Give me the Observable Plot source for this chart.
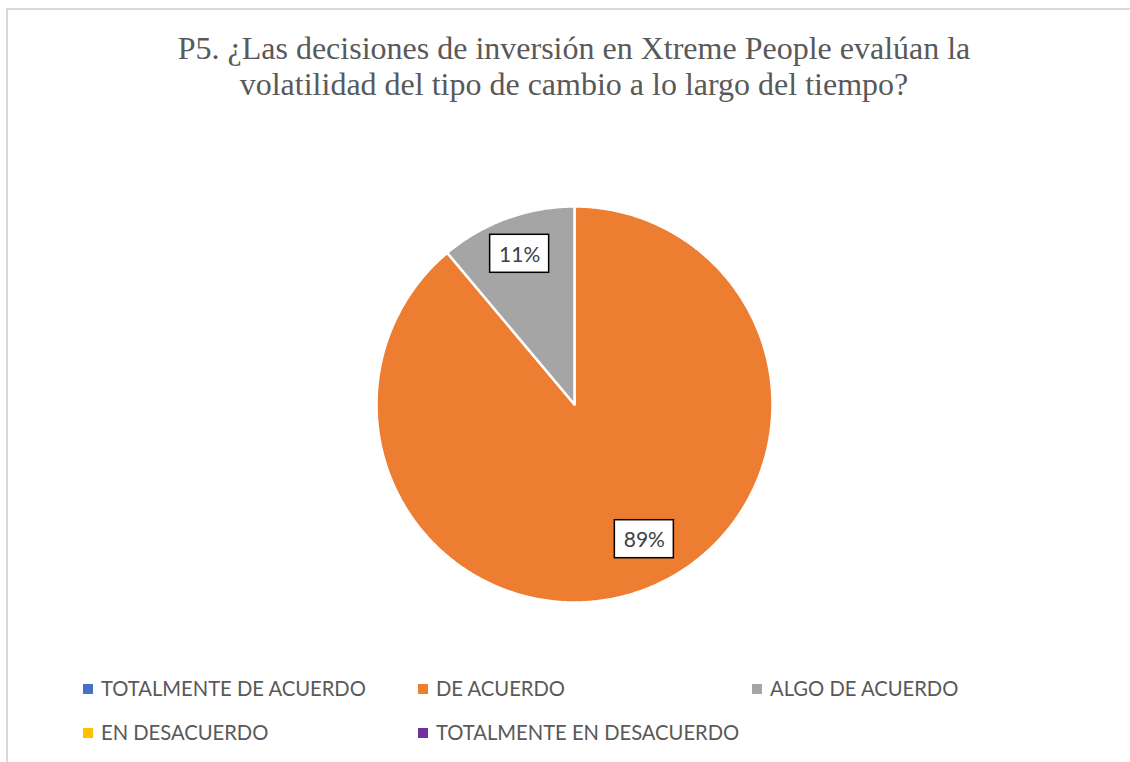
<!DOCTYPE html>
<html>
<head>
<meta charset="utf-8">
<script src="https://cdn.jsdelivr.net/npm/d3@7"></script>
<script src="https://cdn.jsdelivr.net/npm/@observablehq/plot@0.6"></script>
<style>
  body { margin: 0; background: #fff; }
  #wrap { position: relative; width: 1130px; height: 762px; overflow: hidden; background: #fff; }
  #frame { position: absolute; left: 6px; top: 8px; width: 1150px; height: 780px; border: 2px solid #d9d9d9; box-sizing: border-box; }
  #title { position: absolute; left: 0; top: 30px; width: 1148px; text-align: center; font-family: "Liberation Serif", "Times New Roman", serif; font-size: 32px; line-height: 36px; color: #595959; }
  #chart { position: absolute; left: 0; top: 0; }
  .leg { position: absolute; font-family: Lato, "Open Sans", sans-serif; font-size: 20.2px; line-height: 24px; color: #595959; white-space: nowrap; }
  .sw { position: absolute; width: 10px; height: 10px; }
</style>
</head>
<body>
<div id="wrap">
  <div id="frame"></div>
  <div id="chart"></div>
  <div id="title">P5. ¿Las decisiones de inversión en Xtreme People evalúan la<br>volatilidad del tipo de cambio a lo largo del tiempo?</div>
  <div id="legend"></div>
</div>
<script>
// ---- data ----
const categories = ["TOTALMENTE DE ACUERDO", "DE ACUERDO", "ALGO DE ACUERDO", "EN DESACUERDO", "TOTALMENTE EN DESACUERDO"];
const counts = [0, 8, 1, 0, 0];
const colors = ["#4472C4", "#ED7D31", "#A5A5A5", "#FFC000", "#7030A0"];

const total = d3.sum(counts);
const rows = categories.map((c, i) => ({ key: c, value: counts[i], color: colors[i] }));
const arcs = d3.pie().sort(null).value(d => d.value)(rows);

// polygon vertices for each non-empty slice (unit circle, y up, clockwise from 12 o'clock)
const slices = arcs.filter(a => a.value > 0).map(a => {
  const pts = [{ x: 0, y: 0 }];
  const n = Math.max(2, Math.ceil((a.endAngle - a.startAngle) / (Math.PI / 360)));
  for (let k = 0; k <= n; k++) {
    const t = a.startAngle + (a.endAngle - a.startAngle) * k / n;
    pts.push({ x: Math.sin(t), y: Math.cos(t) });
  }
  pts.push({ x: 0, y: 0 });
  return { key: a.data.key, color: a.data.color, pts };
});

// data labels
const labelR = 0.81;
const labels = arcs.filter(a => a.value > 0).map(a => {
  const mid = (a.startAngle + a.endAngle) / 2;
  return {
    key: a.data.key,
    big: a.value / total > 0.5,
    x: Math.sin(mid) * labelR,
    y: Math.cos(mid) * labelR,
    text: Math.round(a.value / total * 100) + "%"
  };
});

const pxPerUnit = 198;
const boxHW = 29.5 / pxPerUnit, boxHH = 19 / pxPerUnit;

function labelMarks(data, dx, dy) {
  return [
    Plot.rect(data, { x1: d => d.x - boxHW, x2: d => d.x + boxHW, y1: d => d.y - boxHH, y2: d => d.y + boxHH,
      fill: "white", stroke: "black", strokeWidth: 1.5, dx, dy }),
    Plot.text(data, { x: "x", y: "y", text: "text", fontSize: 21, fill: "#404040",
      fontFamily: "Lato, 'Open Sans', sans-serif", textAnchor: "middle", lineAnchor: "middle", dx, dy: dy + 1 })
  ];
}

const cx = 574, cy = 404;
const chart = Plot.plot({
  width: 1130,
  height: 762,
  margin: 0,
  x: { domain: [-1, 1], range: [cx - pxPerUnit, cx + pxPerUnit], axis: null },
  y: { domain: [-1, 1], range: [cy + pxPerUnit, cy - pxPerUnit], axis: null },
  style: { background: "transparent", overflow: "visible" },
  marks: [
    ...slices.map(s => Plot.line(s.pts, { x: "x", y: "y", fill: s.color, stroke: "white", strokeWidth: 2.5, strokeLinejoin: "round" })),
    ...labelMarks(labels.filter(d => !d.big), 0, 0),
    ...labelMarks(labels.filter(d => d.big), 15, -16)
  ]
});
document.getElementById("chart").appendChild(chart);

// legend
const legend = document.getElementById("legend");
const colX = [83, 418, 752];
const rowY = [689, 733];
categories.forEach((c, i) => {
  const col = i % 3, row = Math.floor(i / 3);
  const sw = document.createElement("div");
  sw.className = "sw";
  sw.style.background = colors[i];
  sw.style.left = colX[col] + "px";
  sw.style.top = (rowY[row] - 5) + "px";
  legend.appendChild(sw);
  const t = document.createElement("div");
  t.className = "leg";
  t.textContent = c;
  t.style.left = (colX[col] + 18) + "px";
  t.style.top = (rowY[row] - 13) + "px";
  legend.appendChild(t);
});
</script>
</body>
</html>
